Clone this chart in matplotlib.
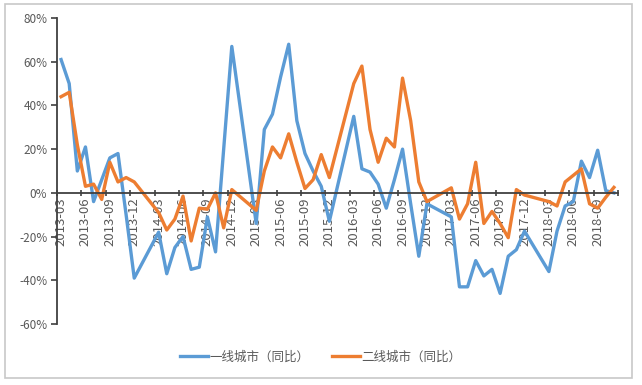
import numpy as np
import matplotlib
matplotlib.use("Agg")
import matplotlib.pyplot as plt
from matplotlib.patches import Rectangle

plt.rcParams['font.family'] = ['Noto Sans CJK SC', 'DejaVu Sans']

nan = np.nan
months = [f"{y}-{m:02d}" for y in range(2013, 2019) for m in range(1, 13)]
months = months[2:2 + 69]  # 2013-03 .. 2018-11

tier1 = [61, 50, 10, 21, -4, 6, 16, 18, -10, -39,
         nan, nan, -18, -37, -25, -20, -35, -34, -11, -27,
         20, 67, nan, nan, -14, 29, 36, 53, 68, 33,
         18, 10, 3, -13, nan, nan, 35, 11, 9.5, 4,
         -7, 6, 20, -5, -29, -5, nan, nan, -11, -43,
         -43, -31, -38, -35, -46, -29, -26, -17.5, nan, nan,
         -36, -17.5, -6, -4, 14.5, 7, 19.5, 1, 0]
tier2 = [44, 46, 22, 3, 4, -3, 14, 5, 7, 5,
         nan, nan, -9, -17, -12, -1.5, -22, -7, -7.5, 0,
         -16, 1.5, nan, nan, -8, 10, 21, 16, 27, 14,
         2, 6, 17.5, 7, nan, nan, 50, 58, 29, 14,
         25, 21, 52.5, 33, 5, -4, nan, nan, 2.3, -12,
         -5, 14, -14, -8.5, -14, -20.5, 1.5, -1, nan, nan,
         -4, -6, 5, 8, 11, -5, -7, -2, 2.5]
series_names = ["一线城市（同比）", "二线城市（同比）"]
yticks = [-60, -40, -20, 0, 20, 40, 60, 80]

fig = plt.figure(figsize=(6.42, 3.85), dpi=100)
fig.patch.set_facecolor("white")
fig.patches.append(Rectangle((5 / 642, 1 - 378 / 385), 627 / 642, 374 / 385,
                             transform=fig.transFigure, fill=False,
                             edgecolor="#c8c8c8", linewidth=1.2))

ax = fig.add_axes([57 / 642, 1 - 324 / 385, (618 - 57) / 642, (324 - 18) / 385])
x = np.arange(len(months))
for vals, col, name in [(tier1, "#5B9BD5", series_names[0]),
                        (tier2, "#ED7D31", series_names[1])]:
    v = np.array(vals, dtype=float)
    m = ~np.isnan(v)
    ax.plot(x[m], v[m], color=col, lw=2.4, label=name, solid_joinstyle="round")

ax.set_xlim(-0.5, len(months) - 0.5)
ax.set_ylim(-60, 80)
ax.set_yticks(yticks)
ax.set_yticklabels([f"{t}%" for t in yticks], color="#595959", fontsize=8.5)
for s in ["top", "right"]:
    ax.spines[s].set_visible(False)
ax.spines['left'].set_color("#404040")
ax.spines['left'].set_linewidth(1.3)
ax.spines['bottom'].set_position(('data', 0))
ax.spines['bottom'].set_color("#404040")
ax.spines['bottom'].set_linewidth(1.3)
ax.tick_params(axis='y', length=4, width=1.2, color="#404040", pad=3)

lab_idx = list(range(0, len(months), 3))
ax.set_xticks(lab_idx)
ax.set_xticklabels([months[i] for i in lab_idx], rotation=90, fontsize=9.5,
                   color="#595959", va="top", ha="center")
ax.set_xticks(np.arange(-0.5, len(months), 3), minor=True)
ax.tick_params(axis='x', which='major', length=0, pad=3)
ax.tick_params(axis='x', which='minor', length=4, width=1.2, color="#404040",
               direction='inout')
ax.set_facecolor("none")

leg = fig.legend(loc="center", bbox_to_anchor=(0.5, 1 - 357 / 385), ncol=2,
                 frameon=False, fontsize=9, handlelength=2.2,
                 columnspacing=1.8, handletextpad=0.15)
for t in leg.get_texts():
    t.set_color("#595959")

fig.savefig("out.png", dpi=100, facecolor="white")
